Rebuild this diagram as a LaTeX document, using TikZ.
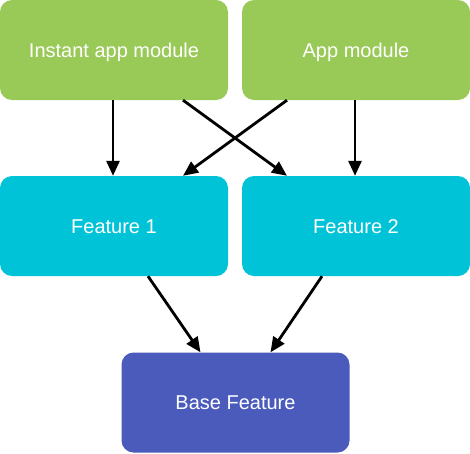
\documentclass[tikz,border=0pt]{standalone}
\usepackage{fontspec}
\setmainfont{Liberation Sans}
\usetikzlibrary{arrows.meta,calc}
\definecolor{appgreen}{HTML}{99C957}
\definecolor{featcyan}{HTML}{00C3D8}
\definecolor{baseblue}{HTML}{4A5BBC}
\begin{document}
\begin{tikzpicture}[x=1pt,y=-1pt,
  box/.style={rounded corners=12pt, minimum width=228pt, minimum height=100pt,
    inner sep=0pt, text=white, text height=14pt, text depth=0pt,
    font=\fontsize{20}{24}\selectfont},
  arr/.style={line width=2.8pt, -{Triangle[length=15pt,width=13pt]}}]
\useasboundingbox (0,0) rectangle (470,453);
\node[box, fill=appgreen] (ia) at (114,50) {Instant app module};
\node[box, fill=appgreen] (am) at (356,50) {App module};
\node[box, fill=featcyan] (f1) at (114,226) {Feature 1};
\node[box, fill=featcyan] (f2) at (356,226) {Feature 2};
\node[box, fill=baseblue] (bf) at (235.5,402.5) {Base Feature};
\draw[arr] ($(ia.south)+(-1,0)$) -- ($(f1.north)+(-1,0)$);
\draw[arr] ($(am.south)+(-1,0)$) -- ($(f2.north)+(-1,0)$);
\draw[arr] ($(ia.south)+(69,0)$) -- ($(f2.north)+(-69,0)$);
\draw[arr] ($(am.south)+(-69,0)$) -- ($(f1.north)+(69,0)$);
\draw[arr] ($(f1.south)+(34,0)$) -- ($(bf.north)+(-35,0)$);
\draw[arr] ($(f2.south)+(-34,0)$) -- ($(bf.north)+(35,0)$);
\end{tikzpicture}
\end{document}
